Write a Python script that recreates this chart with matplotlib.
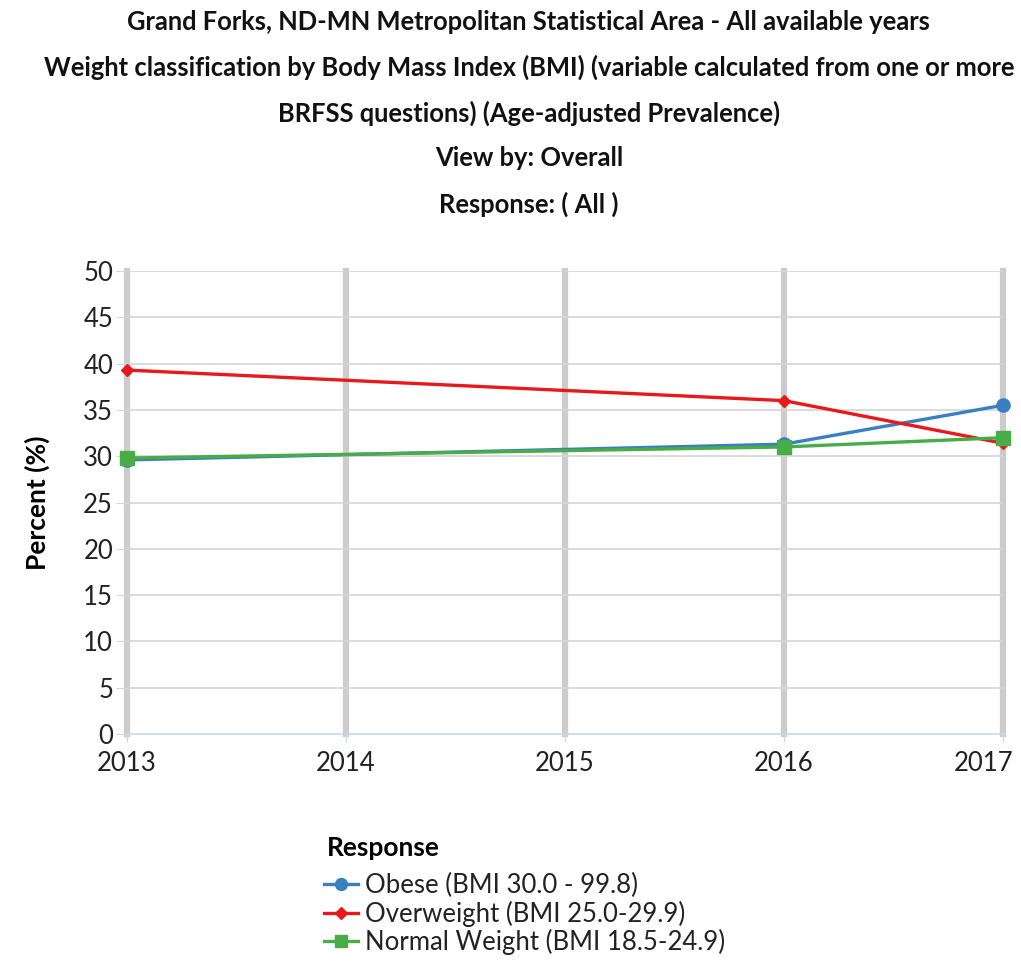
import matplotlib.pyplot as plt
from matplotlib.lines import Line2D
from matplotlib.transforms import ScaledTranslation

plt.rcParams['font.family'] = ['Lato', 'DejaVu Sans']

years = [2013, 2016, 2017]
obese = [29.6, 31.3, 35.5]
overweight = [39.3, 36.0, 31.4]
normal = [29.8, 31.0, 32.0]
tick_years = [2013, 2014, 2015, 2016, 2017]

labels = ["Obese (BMI 30.0 - 99.8)", "Overweight (BMI 25.0-29.9)", "Normal Weight (BMI 18.5-24.9)"]
colors = ["#3a7fc1", "#e8191c", "#48ac47"]
markers = ["o", "D", "s"]
msizes = [9.5, 6.5, 9.5]

fig = plt.figure(figsize=(10.21, 9.61), dpi=100)
ax = fig.add_axes([0.1244, 0.2362, 0.8580, 0.4818])

for vals, c, m, ms in zip([obese, overweight, normal], colors, markers, msizes):
    ax.plot(years, vals, color=c, lw=2.4, marker=m, markersize=ms, clip_on=False, zorder=3)

ax.set_xlim(2013, 2017)
ax.set_ylim(0, 50)
ax.set_xticks(tick_years)
ax.set_yticks(range(0, 51, 5))
ax.tick_params(axis='y', labelsize=18.5, colors='#222222', length=8, color='#d6d6d6', pad=2)
ax.tick_params(axis='x', labelsize=18.5, colors='#222222', length=6, color='#c8d8ee', width=1, pad=6)
ax.tick_params(axis='y', labelcolor='#222222')
# last year label is pushed inward like in the original
lbl = ax.get_xticklabels()[-1]
lbl.set_horizontalalignment('right')
lbl.set_transform(lbl.get_transform() + ScaledTranslation(0.10, 0, fig.dpi_scale_trans))

for x in tick_years:
    ax.axvline(x, color='#cccccc', lw=4.5, zorder=1, clip_on=False)
for y in range(5, 51, 5):
    ax.axhline(y, color='#d6d6d6', lw=1.2, zorder=1)
for s in ['top', 'right', 'left']:
    ax.spines[s].set_visible(False)
ax.spines['bottom'].set_color('#c8d8ee')
ax.spines['bottom'].set_linewidth(1.2)
ax.set_ylabel("Percent (%)", fontsize=19, fontweight='bold', labelpad=24)

titles = ["Grand Forks, ND-MN Metropolitan Statistical Area - All available years",
          "Weight classification by Body Mass Index (BMI) (variable calculated from one or more",
          "BRFSS questions) (Age-adjusted Prevalence)",
          "View by: Overall",
          "Response: ( All )"]
for i, t in enumerate(titles):
    fig.text(0.518, 1 - (22 + 45.5 * i) / 961, t, ha='center', va='center',
             fontsize=18.4, fontweight='bold', color='#111111')

handles = [Line2D([], [], color=c, marker=m, markersize=ms * 0.9, lw=2.4)
           for c, m, ms in zip(colors, markers, msizes)]
leg = fig.legend(handles, labels, loc='upper left', bbox_to_anchor=(0.317, 1 - 873 / 961),
                 frameon=False, fontsize=18.5, handlelength=1.35, handletextpad=0.25,
                 labelspacing=0.1, borderaxespad=0, borderpad=0)
for t in leg.get_texts():
    t.set_color('#222222')
fig.text(0.32, 1 - 848 / 961, "Response", fontsize=19, fontweight='bold', va='center')

plt.savefig("out.png", dpi=100)
